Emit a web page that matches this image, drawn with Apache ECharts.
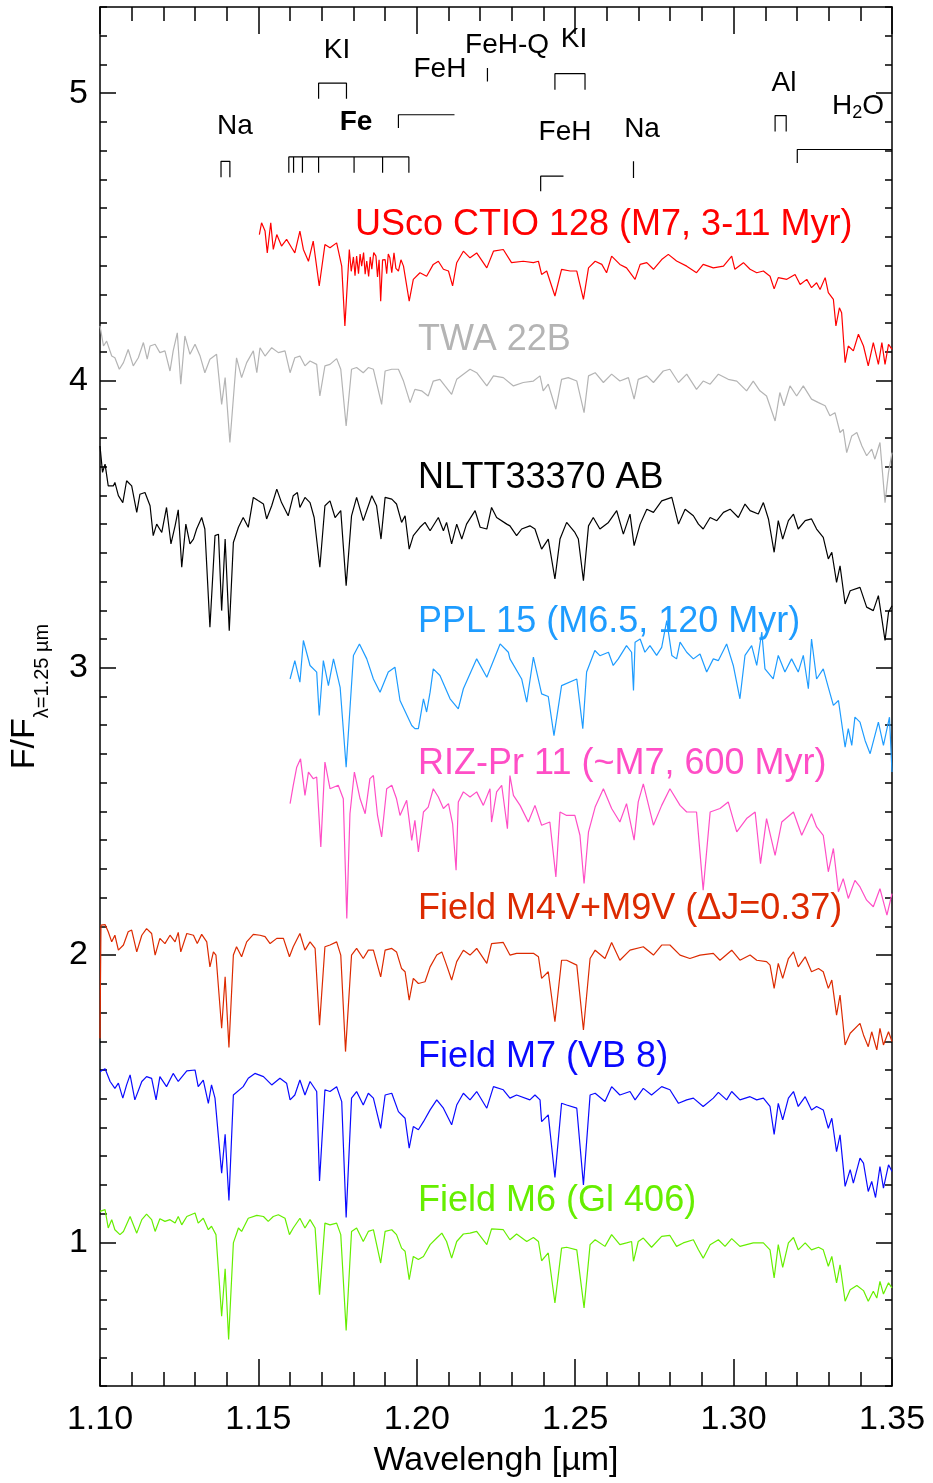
<!DOCTYPE html>
<html>
<head>
<meta charset="utf-8">
<script src="https://cdn.jsdelivr.net/npm/echarts@6/dist/echarts.min.js"></script>
<style>html,body{margin:0;padding:0;background:#fff}#c{width:933px;height:1483px}</style>
</head>
<body>
<div id="c"></div>
<script>
// ---- axis ticks ----
const yMajorTicks = [1, 2, 3, 4, 5];
const yMinorTicks = [0.5,0.6,0.7,0.8,0.9,1.0,1.1,1.2,1.3,1.4,1.5,1.6,1.7,1.8,1.9,2.0,2.1,2.2,2.3,2.4,2.5,2.6,2.7,2.8,2.9,3.0,3.1,3.2,3.3,3.4,3.5,3.6,3.7,3.8,3.9,4.0,4.1,4.2,4.3,4.4,4.5,4.6,4.7,4.8,4.9,5.0,5.1,5.2,5.3];

// ---- spectra: [wavelength (µm), F/F(1.25µm) + offset] ----
const uscoCTIO128 = [[1.1503,4.508],[1.1510,4.549],[1.1521,4.520],[1.1528,4.444],[1.1539,4.549],[1.1547,4.456],[1.1558,4.508],[1.1573,4.468],[1.1589,4.491],[1.1605,4.462],[1.1615,4.444],[1.1631,4.520],[1.1642,4.456],[1.1658,4.415],[1.1673,4.485],[1.1692,4.329],[1.1710,4.473],[1.1726,4.462],[1.1747,4.479],[1.1763,4.398],[1.1773,4.190],[1.1787,4.456],[1.1793,4.380],[1.1800,4.430],[1.1805,4.365],[1.1810,4.433],[1.1816,4.372],[1.1821,4.440],[1.1826,4.398],[1.1832,4.445],[1.1837,4.370],[1.1842,4.416],[1.1848,4.362],[1.1853,4.430],[1.1858,4.387],[1.1864,4.445],[1.1871,4.433],[1.1876,4.360],[1.1881,4.420],[1.1886,4.276],[1.1892,4.420],[1.1900,4.421],[1.1905,4.372],[1.1910,4.440],[1.1915,4.427],[1.1921,4.375],[1.1928,4.444],[1.1934,4.390],[1.1942,4.381],[1.1950,4.420],[1.1958,4.398],[1.1976,4.276],[1.1989,4.352],[1.2010,4.375],[1.2031,4.363],[1.2052,4.404],[1.2068,4.415],[1.2084,4.387],[1.2100,4.381],[1.2113,4.329],[1.2126,4.410],[1.2147,4.450],[1.2168,4.427],[1.2189,4.444],[1.2221,4.392],[1.2242,4.450],[1.2273,4.456],[1.2299,4.410],[1.2336,4.415],[1.2368,4.410],[1.2384,4.415],[1.2394,4.369],[1.2410,4.381],[1.2436,4.294],[1.2457,4.387],[1.2484,4.381],[1.2505,4.381],[1.2526,4.282],[1.2542,4.392],[1.2563,4.415],[1.2584,4.404],[1.2599,4.375],[1.2615,4.433],[1.2641,4.404],[1.2662,4.392],[1.2689,4.352],[1.2705,4.404],[1.2726,4.410],[1.2747,4.387],[1.2773,4.421],[1.2794,4.439],[1.2820,4.416],[1.2852,4.398],[1.2883,4.375],[1.2904,4.404],[1.2936,4.392],[1.2968,4.398],[1.2994,4.433],[1.3004,4.387],[1.3031,4.410],[1.3052,4.387],[1.3073,4.375],[1.3094,4.381],[1.3115,4.363],[1.3128,4.319],[1.3141,4.358],[1.3168,4.352],[1.3194,4.369],[1.3210,4.334],[1.3231,4.352],[1.3246,4.323],[1.3262,4.340],[1.3273,4.317],[1.3289,4.358],[1.3299,4.306],[1.3315,4.282],[1.3323,4.190],[1.3334,4.253],[1.3341,4.236],[1.3352,4.062],[1.3362,4.120],[1.3378,4.103],[1.3394,4.161],[1.3410,4.120],[1.3425,4.051],[1.3441,4.132],[1.3457,4.056],[1.3468,4.132],[1.3478,4.056],[1.3489,4.126],[1.3500,4.108]];

const twa22B = [[1.1000,4.190],[1.1011,4.120],[1.1021,4.137],[1.1037,4.085],[1.1047,4.079],[1.1061,4.039],[1.1074,4.062],[1.1089,4.108],[1.1105,4.051],[1.1121,4.079],[1.1137,4.132],[1.1149,4.074],[1.1158,4.120],[1.1174,4.126],[1.1189,4.097],[1.1205,4.103],[1.1221,4.033],[1.1231,4.103],[1.1244,4.166],[1.1255,3.987],[1.1268,4.155],[1.1284,4.091],[1.1300,4.126],[1.1316,4.085],[1.1331,4.027],[1.1347,4.074],[1.1368,4.091],[1.1384,3.917],[1.1395,4.010],[1.1410,3.784],[1.1431,4.079],[1.1447,4.010],[1.1463,4.062],[1.1484,4.103],[1.1495,4.027],[1.1505,4.114],[1.1521,4.085],[1.1542,4.114],[1.1563,4.097],[1.1584,4.103],[1.1600,4.027],[1.1615,4.079],[1.1631,4.085],[1.1647,4.051],[1.1663,4.068],[1.1684,4.056],[1.1694,3.946],[1.1710,4.051],[1.1726,4.056],[1.1747,4.076],[1.1760,4.039],[1.1777,3.842],[1.1794,4.039],[1.1810,4.045],[1.1831,4.027],[1.1847,4.045],[1.1863,4.039],[1.1889,3.917],[1.1900,4.033],[1.1921,4.039],[1.1942,4.039],[1.1958,3.998],[1.1979,3.923],[1.1994,3.969],[1.2015,3.964],[1.2036,3.946],[1.2052,3.998],[1.2073,4.004],[1.2089,3.981],[1.2110,3.952],[1.2126,4.004],[1.2147,4.022],[1.2168,4.039],[1.2189,4.027],[1.2221,3.981],[1.2242,4.016],[1.2273,4.010],[1.2305,3.981],[1.2336,3.993],[1.2368,3.998],[1.2389,4.016],[1.2399,3.964],[1.2415,3.987],[1.2439,3.900],[1.2457,4.004],[1.2478,4.010],[1.2505,3.998],[1.2528,3.888],[1.2542,4.016],[1.2563,4.027],[1.2589,3.993],[1.2615,4.022],[1.2641,3.998],[1.2668,4.010],[1.2686,3.935],[1.2699,4.004],[1.2726,4.016],[1.2747,3.993],[1.2778,4.033],[1.2799,4.039],[1.2826,3.993],[1.2852,4.022],[1.2883,3.969],[1.2904,3.998],[1.2926,3.987],[1.2952,4.022],[1.2983,4.004],[1.3010,3.998],[1.3041,3.964],[1.3062,3.998],[1.3083,3.964],[1.3104,3.946],[1.3131,3.859],[1.3146,3.958],[1.3159,3.912],[1.3178,3.981],[1.3199,3.946],[1.3220,3.981],[1.3246,3.935],[1.3268,3.923],[1.3289,3.912],[1.3304,3.877],[1.3320,3.888],[1.3336,3.819],[1.3346,3.830],[1.3357,3.749],[1.3373,3.807],[1.3389,3.819],[1.3405,3.772],[1.3420,3.738],[1.3436,3.761],[1.3446,3.726],[1.3462,3.784],[1.3478,3.575],[1.3489,3.680],[1.3500,3.749]];

const nltt33370 = [[1.1000,3.772],[1.1008,3.680],[1.1016,3.709],[1.1026,3.633],[1.1042,3.633],[1.1047,3.645],[1.1058,3.599],[1.1072,3.575],[1.1084,3.651],[1.1100,3.633],[1.1116,3.541],[1.1126,3.604],[1.1142,3.610],[1.1158,3.564],[1.1168,3.460],[1.1179,3.500],[1.1195,3.471],[1.1210,3.558],[1.1224,3.431],[1.1237,3.494],[1.1247,3.550],[1.1258,3.350],[1.1271,3.500],[1.1284,3.431],[1.1295,3.448],[1.1305,3.483],[1.1321,3.523],[1.1331,3.483],[1.1347,3.141],[1.1363,3.460],[1.1374,3.465],[1.1384,3.199],[1.1395,3.448],[1.1408,3.129],[1.1421,3.436],[1.1437,3.489],[1.1452,3.523],[1.1468,3.489],[1.1484,3.593],[1.1500,3.581],[1.1516,3.570],[1.1526,3.518],[1.1542,3.564],[1.1558,3.622],[1.1573,3.575],[1.1594,3.529],[1.1610,3.599],[1.1623,3.610],[1.1631,3.558],[1.1647,3.593],[1.1663,3.575],[1.1676,3.523],[1.1694,3.350],[1.1710,3.564],[1.1726,3.581],[1.1742,3.523],[1.1760,3.547],[1.1777,3.286],[1.1794,3.529],[1.1810,3.593],[1.1831,3.512],[1.1858,3.599],[1.1873,3.564],[1.1887,3.448],[1.1900,3.593],[1.1921,3.587],[1.1936,3.570],[1.1952,3.506],[1.1963,3.529],[1.1976,3.413],[1.1989,3.460],[1.2010,3.489],[1.2026,3.506],[1.2042,3.477],[1.2068,3.523],[1.2084,3.477],[1.2094,3.506],[1.2110,3.431],[1.2126,3.500],[1.2142,3.448],[1.2157,3.500],[1.2184,3.547],[1.2200,3.489],[1.2221,3.483],[1.2236,3.558],[1.2252,3.523],[1.2284,3.500],[1.2294,3.494],[1.2315,3.460],[1.2331,3.483],[1.2357,3.494],[1.2373,3.483],[1.2394,3.413],[1.2415,3.448],[1.2436,3.309],[1.2452,3.448],[1.2473,3.506],[1.2499,3.471],[1.2510,3.448],[1.2526,3.303],[1.2542,3.494],[1.2557,3.523],[1.2578,3.483],[1.2605,3.506],[1.2631,3.547],[1.2652,3.465],[1.2673,3.535],[1.2686,3.425],[1.2705,3.500],[1.2726,3.552],[1.2747,3.541],[1.2773,3.581],[1.2805,3.593],[1.2826,3.500],[1.2847,3.552],[1.2873,3.529],[1.2889,3.500],[1.2904,3.483],[1.2926,3.523],[1.2947,3.512],[1.2968,3.541],[1.2989,3.552],[1.3015,3.523],[1.3036,3.570],[1.3052,3.547],[1.3078,3.535],[1.3094,3.575],[1.3110,3.518],[1.3128,3.402],[1.3141,3.512],[1.3155,3.448],[1.3173,3.512],[1.3189,3.535],[1.3204,3.483],[1.3226,3.512],[1.3246,3.518],[1.3262,3.483],[1.3283,3.454],[1.3299,3.379],[1.3310,3.402],[1.3325,3.297],[1.3336,3.355],[1.3352,3.222],[1.3368,3.268],[1.3399,3.280],[1.3420,3.211],[1.3441,3.199],[1.3457,3.251],[1.3468,3.170],[1.3478,3.095],[1.3489,3.193],[1.3500,3.216]];

const ppl15 = [[1.1600,2.961],[1.1615,3.025],[1.1631,2.950],[1.1642,3.095],[1.1663,3.008],[1.1684,2.985],[1.1692,2.834],[1.1705,3.025],[1.1721,2.938],[1.1737,3.031],[1.1758,2.932],[1.1777,2.654],[1.1800,3.043],[1.1819,3.083],[1.1842,3.031],[1.1863,2.961],[1.1884,2.915],[1.1910,2.985],[1.1931,3.002],[1.1947,2.886],[1.1984,2.799],[1.1994,2.788],[1.2005,2.788],[1.2021,2.892],[1.2031,2.846],[1.2042,2.915],[1.2052,2.996],[1.2073,2.973],[1.2105,2.892],[1.2131,2.857],[1.2147,2.927],[1.2189,3.031],[1.2221,2.967],[1.2263,3.083],[1.2289,3.054],[1.2294,3.031],[1.2331,2.961],[1.2347,2.880],[1.2368,3.037],[1.2394,2.909],[1.2415,2.900],[1.2433,2.764],[1.2457,2.938],[1.2505,2.961],[1.2524,2.788],[1.2536,2.985],[1.2562,3.060],[1.2578,3.042],[1.2605,3.054],[1.2620,3.008],[1.2636,3.031],[1.2662,3.077],[1.2678,3.054],[1.2684,2.921],[1.2689,3.089],[1.2705,3.100],[1.2720,3.054],[1.2736,3.077],[1.2757,3.043],[1.2773,3.071],[1.2789,3.164],[1.2805,3.043],[1.2820,3.031],[1.2831,3.089],[1.2852,3.054],[1.2873,3.031],[1.2894,3.048],[1.2915,2.985],[1.2936,3.031],[1.2952,3.025],[1.2978,3.083],[1.2999,3.008],[1.3020,2.892],[1.3036,3.043],[1.3057,3.077],[1.3073,3.008],[1.3089,3.124],[1.3099,2.996],[1.3125,2.961],[1.3141,3.043],[1.3162,2.985],[1.3183,3.031],[1.3204,2.985],[1.3220,3.043],[1.3236,2.927],[1.3246,3.100],[1.3262,2.961],[1.3283,2.996],[1.3299,2.932],[1.3315,2.869],[1.3331,2.886],[1.3352,2.724],[1.3362,2.788],[1.3373,2.730],[1.3383,2.828],[1.3399,2.811],[1.3415,2.747],[1.3431,2.701],[1.3457,2.811],[1.3473,2.730],[1.3492,2.828],[1.3500,2.637]];

const rizPr11 = [[1.1600,2.527],[1.1610,2.591],[1.1621,2.654],[1.1633,2.683],[1.1647,2.556],[1.1658,2.637],[1.1673,2.614],[1.1684,2.620],[1.1697,2.376],[1.1710,2.672],[1.1726,2.579],[1.1752,2.591],[1.1768,2.544],[1.1779,2.127],[1.1789,2.492],[1.1803,2.637],[1.1821,2.544],[1.1837,2.492],[1.1852,2.614],[1.1863,2.625],[1.1876,2.486],[1.1889,2.411],[1.1905,2.579],[1.1921,2.591],[1.1936,2.544],[1.1947,2.486],[1.1968,2.539],[1.1984,2.399],[1.1994,2.469],[1.2005,2.359],[1.2021,2.498],[1.2036,2.515],[1.2052,2.579],[1.2068,2.550],[1.2084,2.510],[1.2100,2.527],[1.2113,2.457],[1.2124,2.295],[1.2131,2.533],[1.2147,2.568],[1.2168,2.550],[1.2189,2.568],[1.2210,2.521],[1.2231,2.579],[1.2236,2.463],[1.2252,2.568],[1.2268,2.591],[1.2286,2.440],[1.2294,2.625],[1.2305,2.556],[1.2326,2.521],[1.2352,2.463],[1.2373,2.521],[1.2394,2.452],[1.2420,2.463],[1.2439,2.272],[1.2452,2.498],[1.2473,2.486],[1.2499,2.486],[1.2515,2.417],[1.2528,2.249],[1.2542,2.429],[1.2563,2.515],[1.2589,2.579],[1.2615,2.510],[1.2641,2.463],[1.2662,2.527],[1.2686,2.400],[1.2699,2.533],[1.2715,2.596],[1.2747,2.452],[1.2773,2.521],[1.2799,2.579],[1.2831,2.521],[1.2852,2.498],[1.2883,2.498],[1.2904,2.226],[1.2926,2.498],[1.2957,2.510],[1.2983,2.533],[1.3010,2.429],[1.3041,2.475],[1.3068,2.498],[1.3085,2.318],[1.3104,2.475],[1.3131,2.347],[1.3152,2.463],[1.3189,2.498],[1.3215,2.417],[1.3246,2.492],[1.3262,2.446],[1.3283,2.417],[1.3299,2.290],[1.3315,2.371],[1.3331,2.220],[1.3346,2.266],[1.3362,2.197],[1.3383,2.260],[1.3399,2.237],[1.3420,2.191],[1.3441,2.168],[1.3462,2.231],[1.3484,2.139],[1.3500,2.214]];

const fieldM4M9 = [[1.1000,1.710],[1.1003,2.104],[1.1016,2.106],[1.1026,2.081],[1.1037,2.046],[1.1047,2.069],[1.1058,2.017],[1.1074,2.035],[1.1089,2.081],[1.1100,2.087],[1.1116,2.011],[1.1132,2.069],[1.1147,2.092],[1.1163,2.075],[1.1174,2.000],[1.1189,2.058],[1.1205,2.040],[1.1221,2.069],[1.1237,2.046],[1.1247,2.079],[1.1255,2.011],[1.1274,2.075],[1.1295,2.069],[1.1307,2.040],[1.1321,2.072],[1.1337,2.046],[1.1347,1.959],[1.1358,2.011],[1.1366,2.000],[1.1384,1.745],[1.1395,1.924],[1.1407,1.678],[1.1421,2.000],[1.1431,2.029],[1.1447,1.994],[1.1463,2.046],[1.1484,2.072],[1.1505,2.069],[1.1521,2.064],[1.1537,2.040],[1.1558,2.058],[1.1579,2.058],[1.1598,1.994],[1.1610,2.029],[1.1631,2.075],[1.1647,2.017],[1.1663,2.046],[1.1679,2.023],[1.1693,1.756],[1.1710,2.029],[1.1726,2.035],[1.1747,2.046],[1.1760,2.000],[1.1775,1.664],[1.1794,2.000],[1.1810,2.023],[1.1831,1.988],[1.1847,2.017],[1.1863,2.017],[1.1886,1.924],[1.1900,2.017],[1.1921,2.023],[1.1936,2.011],[1.1952,1.953],[1.1963,1.942],[1.1976,1.843],[1.1989,1.919],[1.2005,1.901],[1.2026,1.907],[1.2042,1.959],[1.2063,2.000],[1.2079,2.011],[1.2094,1.965],[1.2110,1.913],[1.2126,1.977],[1.2147,2.017],[1.2168,2.000],[1.2189,2.023],[1.2221,1.971],[1.2236,2.040],[1.2273,2.044],[1.2294,2.000],[1.2315,2.006],[1.2368,2.006],[1.2384,1.994],[1.2394,1.919],[1.2415,1.942],[1.2436,1.768],[1.2457,1.982],[1.2473,1.982],[1.2505,1.965],[1.2526,1.739],[1.2547,1.988],[1.2563,2.017],[1.2594,1.988],[1.2615,2.044],[1.2641,1.982],[1.2673,2.017],[1.2715,2.029],[1.2747,2.000],[1.2773,2.035],[1.2799,2.035],[1.2831,2.000],[1.2862,1.988],[1.2894,2.000],[1.2936,2.006],[1.2957,1.982],[1.2994,2.017],[1.3020,1.982],[1.3052,2.000],[1.3073,1.982],[1.3104,1.977],[1.3115,1.965],[1.3128,1.884],[1.3141,1.971],[1.3155,1.919],[1.3173,1.988],[1.3189,2.011],[1.3204,1.959],[1.3226,1.994],[1.3246,1.942],[1.3268,1.953],[1.3283,1.942],[1.3299,1.884],[1.3310,1.913],[1.3325,1.791],[1.3336,1.861],[1.3352,1.687],[1.3368,1.728],[1.3399,1.762],[1.3410,1.722],[1.3425,1.681],[1.3436,1.733],[1.3452,1.670],[1.3462,1.745],[1.3473,1.687],[1.3489,1.733],[1.3500,1.699]];

const fieldM7vb8 = [[1.1000,1.594],[1.1016,1.604],[1.1032,1.560],[1.1047,1.536],[1.1058,1.554],[1.1072,1.502],[1.1084,1.548],[1.1095,1.583],[1.1110,1.496],[1.1132,1.560],[1.1147,1.577],[1.1163,1.571],[1.1177,1.496],[1.1189,1.577],[1.1210,1.542],[1.1231,1.588],[1.1247,1.560],[1.1274,1.597],[1.1300,1.600],[1.1310,1.542],[1.1326,1.565],[1.1342,1.484],[1.1352,1.548],[1.1363,1.502],[1.1384,1.241],[1.1395,1.376],[1.1407,1.146],[1.1421,1.513],[1.1452,1.542],[1.1468,1.571],[1.1489,1.588],[1.1516,1.577],[1.1542,1.548],[1.1568,1.571],[1.1589,1.554],[1.1600,1.496],[1.1615,1.513],[1.1631,1.565],[1.1647,1.513],[1.1663,1.560],[1.1684,1.525],[1.1693,1.214],[1.1710,1.531],[1.1726,1.525],[1.1747,1.542],[1.1763,1.490],[1.1777,1.087],[1.1794,1.502],[1.1810,1.525],[1.1831,1.478],[1.1847,1.519],[1.1863,1.502],[1.1886,1.397],[1.1900,1.513],[1.1921,1.519],[1.1942,1.455],[1.1963,1.432],[1.1976,1.328],[1.1989,1.403],[1.2005,1.392],[1.2021,1.420],[1.2042,1.461],[1.2063,1.496],[1.2084,1.467],[1.2110,1.409],[1.2126,1.478],[1.2147,1.519],[1.2168,1.496],[1.2189,1.525],[1.2221,1.467],[1.2242,1.542],[1.2273,1.531],[1.2294,1.502],[1.2315,1.513],[1.2357,1.496],[1.2373,1.513],[1.2389,1.496],[1.2394,1.420],[1.2415,1.444],[1.2436,1.226],[1.2457,1.484],[1.2473,1.478],[1.2505,1.467],[1.2526,1.200],[1.2547,1.513],[1.2563,1.519],[1.2594,1.490],[1.2615,1.542],[1.2641,1.513],[1.2673,1.525],[1.2689,1.496],[1.2715,1.536],[1.2741,1.513],[1.2773,1.542],[1.2799,1.531],[1.2826,1.484],[1.2852,1.496],[1.2873,1.502],[1.2904,1.473],[1.2936,1.502],[1.2952,1.522],[1.2978,1.496],[1.2994,1.525],[1.3020,1.496],[1.3052,1.507],[1.3073,1.496],[1.3094,1.502],[1.3115,1.473],[1.3128,1.376],[1.3141,1.484],[1.3155,1.426],[1.3173,1.502],[1.3189,1.525],[1.3204,1.473],[1.3226,1.507],[1.3246,1.461],[1.3262,1.473],[1.3283,1.461],[1.3299,1.397],[1.3310,1.432],[1.3325,1.316],[1.3336,1.374],[1.3352,1.195],[1.3368,1.253],[1.3378,1.206],[1.3399,1.293],[1.3410,1.276],[1.3425,1.177],[1.3436,1.212],[1.3448,1.156],[1.3462,1.264],[1.3473,1.189],[1.3489,1.270],[1.3500,1.247]];

const fieldM6gl406 = [[1.1000,1.108],[1.1016,1.114],[1.1026,1.050],[1.1037,1.079],[1.1047,1.044],[1.1063,1.027],[1.1074,1.038],[1.1095,1.090],[1.1116,1.032],[1.1132,1.079],[1.1147,1.098],[1.1163,1.079],[1.1174,1.038],[1.1189,1.082],[1.1205,1.073],[1.1221,1.079],[1.1237,1.067],[1.1247,1.090],[1.1258,1.061],[1.1274,1.090],[1.1300,1.102],[1.1310,1.067],[1.1326,1.084],[1.1342,1.044],[1.1352,1.056],[1.1366,1.027],[1.1384,0.743],[1.1395,0.908],[1.1406,0.662],[1.1421,0.998],[1.1437,1.050],[1.1447,1.038],[1.1468,1.084],[1.1495,1.094],[1.1516,1.090],[1.1531,1.073],[1.1547,1.090],[1.1563,1.096],[1.1584,1.084],[1.1598,1.027],[1.1610,1.050],[1.1631,1.084],[1.1647,1.050],[1.1663,1.079],[1.1679,1.050],[1.1693,0.818],[1.1710,1.067],[1.1726,1.061],[1.1747,1.067],[1.1760,1.027],[1.1777,0.693],[1.1794,1.038],[1.1810,1.050],[1.1831,1.003],[1.1847,1.038],[1.1863,1.044],[1.1886,0.928],[1.1900,1.038],[1.1921,1.044],[1.1936,1.027],[1.1952,0.980],[1.1963,0.969],[1.1976,0.870],[1.1989,0.951],[1.2005,0.940],[1.2021,0.951],[1.2042,0.992],[1.2063,1.015],[1.2079,1.032],[1.2094,1.003],[1.2110,0.945],[1.2126,1.003],[1.2147,1.029],[1.2168,1.032],[1.2189,1.038],[1.2221,0.992],[1.2236,1.047],[1.2273,1.044],[1.2294,1.009],[1.2315,1.029],[1.2347,1.003],[1.2368,1.017],[1.2384,1.003],[1.2394,0.936],[1.2415,0.963],[1.2436,0.789],[1.2457,0.980],[1.2473,0.983],[1.2505,0.974],[1.2528,0.772],[1.2547,0.992],[1.2563,1.009],[1.2594,0.986],[1.2615,1.027],[1.2641,0.992],[1.2662,0.998],[1.2678,1.003],[1.2684,0.934],[1.2699,1.003],[1.2715,1.015],[1.2741,0.983],[1.2773,1.021],[1.2799,1.024],[1.2820,0.986],[1.2841,0.998],[1.2873,1.009],[1.2889,0.974],[1.2904,0.945],[1.2926,0.992],[1.2952,1.009],[1.2973,0.986],[1.2994,1.013],[1.3020,0.986],[1.3041,0.992],[1.3062,0.998],[1.3094,0.998],[1.3115,0.974],[1.3128,0.876],[1.3141,0.992],[1.3155,0.913],[1.3173,0.998],[1.3189,1.017],[1.3204,0.974],[1.3226,0.998],[1.3246,0.974],[1.3268,0.983],[1.3283,0.974],[1.3299,0.917],[1.3310,0.951],[1.3325,0.859],[1.3336,0.922],[1.3352,0.795],[1.3368,0.835],[1.3389,0.850],[1.3410,0.832],[1.3425,0.795],[1.3441,0.830],[1.3452,0.806],[1.3462,0.864],[1.3473,0.820],[1.3489,0.859],[1.3500,0.841]];

// ---- spectrum names ----
const spectrumNames = ['USco CTIO 128 (M7, 3-11 Myr)', 'TWA 22B', 'NLTT33370 AB', 'PPL 15 (M6.5, 120 Myr)', 'RIZ-Pr 11 (~M7, 600 Myr)', 'Field M4V+M9V (\u0394J=0.37)', 'Field M7 (VB 8)', 'Field M6 (Gl 406)'];
const spectrumColors = ['#ff0000', '#b4b4b4', '#000000', '#1e9cff', '#ff4ec6', '#dc2a00', '#0a0aff', '#66ee00'];
const nameAnchorWl = [1.1805, 1.2004, 1.2004, 1.2004, 1.2004, 1.2004, 1.2004, 1.2004];
const nameAnchorLevel = [4.542, 4.142, 3.662, 3.158, 2.665, 2.161, 1.646, 1.142];

// ---- line identifications (brackets) in data coordinates ----
const naBracket1  = [[1.1382,4.707],[1.1382,4.763],[1.1410,4.763],[1.1410,4.707]];
const feBracket   = [[1.1596,4.723],[1.1596,4.778],[1.1611,4.778],[1.1611,4.723],[1.1611,4.778],[1.1639,4.778],[1.1639,4.723],[1.1639,4.778],[1.1690,4.778],[1.1690,4.723],[1.1690,4.778],[1.1802,4.778],[1.1802,4.723],[1.1802,4.778],[1.1892,4.778],[1.1892,4.723],[1.1892,4.778],[1.1975,4.778],[1.1975,4.723]];
const kiBracket1  = [[1.1690,4.981],[1.1690,5.035],[1.1778,5.035],[1.1778,4.981]];
const fehBracket1 = [[1.1942,4.879],[1.1942,4.925],[1.2119,4.925]];
const fehqMark    = [[1.2223,5.041],[1.2223,5.088]];
const kiBracket2  = [[1.2436,5.012],[1.2436,5.068],[1.2531,5.068],[1.2531,5.012]];
const fehBracket2 = [[1.2391,4.659],[1.2391,4.711],[1.2463,4.711]];
const naMark2     = [[1.2684,4.705],[1.2684,4.763]];
const alBracket   = [[1.3131,4.867],[1.3131,4.922],[1.3166,4.922],[1.3166,4.867]];
const h2oBracket  = [[1.3201,4.757],[1.3201,4.804],[1.3500,4.804]];
const lineLabels = ['Na', '{b|Fe}', 'KI', 'FeH', 'FeH-Q', 'KI', 'FeH', 'Na', 'Al', 'H{s|2}O'];
const lineLabelWl = [1.1426, 1.1808, 1.1748, 1.2073, 1.2285, 1.2496, 1.2468, 1.2711, 1.3159, 1.3393];
const lineLabelLevel = [4.884, 4.897, 5.151, 5.082, 5.168, 5.186, 4.863, 4.876, 5.036, 4.956];

const FONT = "'Liberation Sans', Arial, Helvetica, sans-serif";
const chart = echarts.init(document.getElementById('c'), null, {renderer: 'canvas'});

const spectra = [uscoCTIO128, twa22B, nltt33370, ppl15, rizPr11, fieldM4M9, fieldM7vb8, fieldM6gl406];
const brackets = [naBracket1, feBracket, kiBracket1, fehBracket1, fehqMark, kiBracket2, fehBracket2, naMark2, alBracket, h2oBracket];

const series = [];
spectra.forEach((d, i) => {
  series.push({
    type: 'line', data: d, showSymbol: false, symbol: 'none', smooth: false,
    lineStyle: {color: spectrumColors[i], width: 1.2}, itemStyle: {color: spectrumColors[i]},
    animation: false, silent: true, z: 3
  });
});
brackets.forEach(d => {
  series.push({
    type: 'line', data: d, showSymbol: false, symbol: 'none',
    lineStyle: {color: '#000', width: 1.2}, animation: false, silent: true, z: 4
  });
});
series.push({
  type: 'scatter', symbolSize: 0, animation: false, silent: true, z: 5,
  itemStyle: {opacity: 1},
  data: spectrumNames.map((n, i) => ({
    value: [nameAnchorWl[i], nameAnchorLevel[i]],
    itemStyle: {opacity: 1},
    label: {show: true, position: 'right', distance: 0, formatter: n, color: spectrumColors[i],
            fontSize: 36, fontFamily: FONT, align: 'left', verticalAlign: 'middle', opacity: 1}
  }))
});
series.push({
  type: 'scatter', symbolSize: 0, animation: false, silent: true, z: 5,
  itemStyle: {opacity: 1},
  data: lineLabels.map((n, i) => ({
    value: [lineLabelWl[i], lineLabelLevel[i]],
    itemStyle: {opacity: 1},
    label: {show: true, position: 'inside', formatter: n, color: '#000', fontSize: 28, fontFamily: FONT,
            align: 'center', verticalAlign: 'middle', opacity: 1, textBorderWidth: 0,
            rich: {b: {fontSize: 28, fontWeight: 'bold', fontFamily: FONT, color: '#000'},
                   s: {fontSize: 18, fontFamily: FONT, color: '#000', padding: [14, 0, 0, 0]}}}
  }))
});

const axisLineStyle = {color: '#000', width: 1.5};
const xCommon = {
  type: 'value', min: 1.10, max: 1.35, interval: 0.05,
  axisLine: {show: true, onZero: false, lineStyle: axisLineStyle},
  axisTick: {show: true, inside: true, length: 27, lineStyle: axisLineStyle},
  minorTick: {show: true, splitNumber: 5, length: 14, lineStyle: axisLineStyle},
  splitLine: {show: false}, minorSplitLine: {show: false}
};
const yBase = {type: 'value', min: 0.5, max: 5.3, splitLine: {show: false}};

chart.setOption({
  backgroundColor: '#fff',
  animation: false,
  grid: {left: 100, top: 7, width: 792, height: 1381, containLabel: false},
  xAxis: [
    Object.assign({}, xCommon, {position: 'bottom',
      axisLabel: {show: true, formatter: v => v.toFixed(2), fontSize: 34, color: '#000', fontFamily: FONT, margin: 17},
      name: 'Wavelengh [\u00b5m]', nameLocation: 'middle', nameGap: 58,
      nameTextStyle: {fontSize: 34, color: '#000', fontFamily: FONT}}),
    Object.assign({}, xCommon, {position: 'top', axisLabel: {show: false}})
  ],
  yAxis: [
    Object.assign({}, yBase, {position: 'left',
      axisLine: {show: true, onZero: false, lineStyle: axisLineStyle},
      axisTick: {show: true, inside: true, length: 16, customValues: yMajorTicks, lineStyle: axisLineStyle},
      axisLabel: {show: true, customValues: yMajorTicks, fontSize: 34, color: '#000', fontFamily: FONT, margin: 12},
      name: '{m|F/F}{s|\u03bb=1.25 \u00b5m}', nameLocation: 'middle', nameGap: 48,
      nameTextStyle: {color: '#000', fontFamily: FONT,
        rich: {m: {fontSize: 34, fontFamily: FONT, color: '#000', verticalAlign: 'bottom', padding: [0, 0, 10, 0]},
               s: {fontSize: 20, fontFamily: FONT, color: '#000', verticalAlign: 'bottom'}}}}),
    Object.assign({}, yBase, {position: 'left',
      axisLine: {show: false},
      axisTick: {show: true, inside: true, length: 7, customValues: yMinorTicks, lineStyle: axisLineStyle},
      axisLabel: {show: false}}),
    Object.assign({}, yBase, {position: 'right',
      axisLine: {show: true, onZero: false, lineStyle: axisLineStyle},
      axisTick: {show: true, inside: true, length: 16, customValues: yMajorTicks, lineStyle: axisLineStyle},
      axisLabel: {show: false}}),
    Object.assign({}, yBase, {position: 'right',
      axisLine: {show: false},
      axisTick: {show: true, inside: true, length: 7, customValues: yMinorTicks, lineStyle: axisLineStyle},
      axisLabel: {show: false}})
  ],
  series: series
});
</script>
</body>
</html>
